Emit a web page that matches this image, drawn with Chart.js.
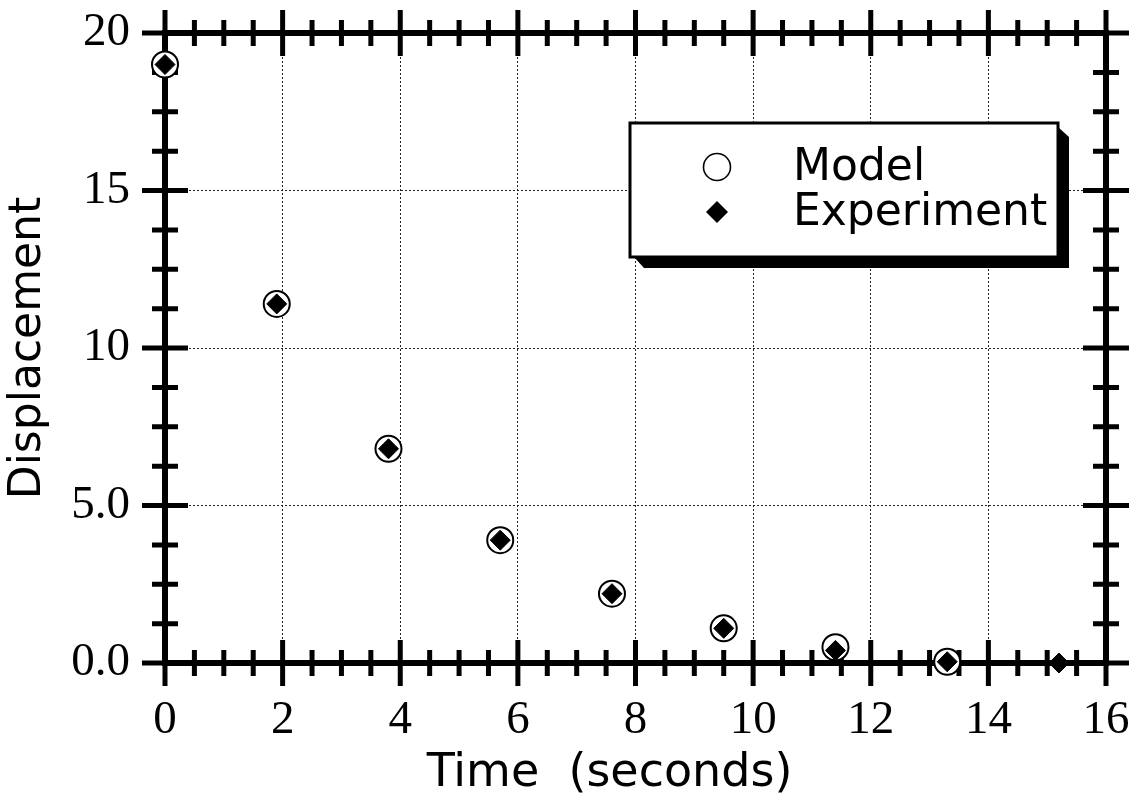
<!DOCTYPE html>
<html>
<head>
<meta charset="utf-8">
<script src="https://cdn.jsdelivr.net/npm/chart.js@4.4.1/dist/chart.umd.min.js"></script>
<style>
  html, body { margin: 0; padding: 0; background: #ffffff; }
  #wrap { width: 1137px; height: 798px; }
</style>
</head>
<body>
<div id="wrap"><canvas id="c" width="1137" height="798"></canvas></div>
<script>
// ---- data ----
const timeModel = [0, 1.9, 3.8, 5.7, 7.6, 9.5, 11.4, 13.3];
const displacementModel = [19.0, 11.4, 6.8, 3.9, 2.2, 1.1, 0.5, 0.04];
const timeExperiment = [0, 1.9, 3.8, 5.7, 7.6, 9.5, 11.4, 13.3, 15.2];
const displacementExperiment = [19.0, 11.4, 6.8, 3.9, 2.2, 1.1, 0.4, 0.04, 0.0];
const xTickLabels = ['0', '2', '4', '6', '8', '10', '12', '14', '16'];
const yTickLabels = ['0.0', '5.0', '10', '15', '20'];
const seriesNames = ['Model', 'Experiment'];
const xTitle = 'Time  (seconds)';
const yTitle = 'Displacement';

const toPoints = (xs, ys) => xs.map((x, i) => ({ x: x, y: ys[i] }));

const SERIF = "'Liberation Serif', 'Times New Roman', serif";
const SANS = "'DejaVu Sans', Verdana, sans-serif";

// Thick framed axes with crossing major/minor ticks on all four sides
const framePlugin = {
  id: 'frame',
  beforeDatasetsDraw(chart) {
    const ctx = chart.ctx;
    const xs = chart.scales.x, ys = chart.scales.y;
    const L = xs.left, R = xs.right, T = ys.top, B = ys.bottom;
    const major = 23, minor = 13;
    ctx.save();
    ctx.strokeStyle = '#000';
    ctx.lineCap = 'butt';
    ctx.lineWidth = 6;
    ctx.beginPath();
    ctx.moveTo(L, T - 3); ctx.lineTo(L, B + 3);
    ctx.moveTo(R, T - 3); ctx.lineTo(R, B + 3);
    ctx.moveTo(L - 3, T); ctx.lineTo(R + 3, T);
    ctx.moveTo(L - 3, B); ctx.lineTo(R + 3, B);
    ctx.stroke();
    ctx.lineWidth = 5;
    ctx.beginPath();
    for (let k = 0; k <= (xs.max - xs.min) / 0.5 + 1e-9; k++) {
      const v = xs.min + k * 0.5;
      const px = xs.getPixelForValue(v);
      const len = (Math.abs(v / 2 - Math.round(v / 2)) < 1e-9) ? major : minor;
      ctx.moveTo(px, B - len); ctx.lineTo(px, B + len);
      ctx.moveTo(px, T - len); ctx.lineTo(px, T + len);
    }
    for (let k = 0; k <= (ys.max - ys.min) / 1.25 + 1e-9; k++) {
      const v = ys.min + k * 1.25;
      const py = ys.getPixelForValue(v);
      const len = (Math.abs(v / 5 - Math.round(v / 5)) < 1e-9) ? major : minor;
      ctx.moveTo(L - len, py); ctx.lineTo(L + len, py);
      ctx.moveTo(R - len, py); ctx.lineTo(R + len, py);
    }
    ctx.stroke();
    ctx.restore();
  }
};

// x-axis title, drawn slightly left of the plot centre as in the reference
const xTitlePlugin = {
  id: 'xTitleText',
  afterDraw(chart, args, opts) {
    const ctx = chart.ctx;
    const a = chart.chartArea;
    ctx.save();
    ctx.font = opts.size + 'px ' + SANS;
    ctx.fillStyle = '#000';
    ctx.textAlign = 'center';
    ctx.textBaseline = 'alphabetic';
    ctx.fillText(opts.text, (a.left + a.right) / 2 + opts.dx, opts.baseline);
    ctx.restore();
  }
};

// Boxed legend with drop shadow inside the plot
const boxLegendPlugin = {
  id: 'boxLegend',
  afterDatasetsDraw(chart, args, opts) {
    const ctx = chart.ctx;
    const bx = opts.left, by = opts.top, bw = opts.width, bh = opts.height;
    ctx.save();
    ctx.fillStyle = '#000';
    ctx.beginPath();
    ctx.moveTo(bx + 4, by + bh);
    ctx.lineTo(bx + 14, by + bh + 11);
    ctx.lineTo(bx + bw + 11, by + bh + 11);
    ctx.lineTo(bx + bw + 11, by + 14);
    ctx.lineTo(bx + bw, by + 4);
    ctx.closePath();
    ctx.fill();
    ctx.fillStyle = '#fff';
    ctx.fillRect(bx, by, bw, bh);
    ctx.lineWidth = 3;
    ctx.strokeStyle = '#000';
    ctx.strokeRect(bx, by, bw, bh);
    const ds = chart.data.datasets;
    ctx.font = '44px ' + SANS;
    ctx.textBaseline = 'middle';
    ctx.textAlign = 'left';
    ds.forEach((d, i) => {
      const cy = by + opts.firstRow + i * opts.rowGap;
      const cx = bx + opts.markerX;
      ctx.beginPath();
      if (d.pointStyle === 'rectRot') {
        const r = 11;
        ctx.moveTo(cx - r, cy); ctx.lineTo(cx, cy - r); ctx.lineTo(cx + r, cy); ctx.lineTo(cx, cy + r);
        ctx.closePath();
        ctx.fillStyle = d.backgroundColor;
        ctx.fill();
      } else {
        ctx.arc(cx, cy, 13.5, 0, Math.PI * 2);
        ctx.fillStyle = d.backgroundColor;
        ctx.fill();
        ctx.lineWidth = 1.6;
        ctx.strokeStyle = d.borderColor;
        ctx.stroke();
      }
      ctx.fillStyle = '#000';
      ctx.fillText(d.label, bx + opts.textX, cy + 2);
    });
    ctx.restore();
  }
};

function zeroPad(s) { s.paddingTop = 0; s.paddingBottom = 0; s.paddingLeft = 0; s.paddingRight = 0; }

const chart = new Chart(document.getElementById('c'), {
  type: 'scatter',
  data: {
    datasets: [
      {
        label: seriesNames[0],
        data: toPoints(timeModel, displacementModel),
        pointStyle: 'circle',
        pointRadius: 13,
        pointBorderWidth: 2,
        backgroundColor: '#ffffff',
        borderColor: '#000000',
        order: 1,
        clip: false
      },
      {
        label: seriesNames[1],
        data: toPoints(timeExperiment, displacementExperiment),
        pointStyle: 'rectRot',
        pointRadius: 10,
        pointBorderWidth: 1,
        backgroundColor: '#000000',
        borderColor: '#000000',
        order: 0,
        clip: false
      }
    ]
  },
  options: {
    responsive: false,
    animation: false,
    devicePixelRatio: 1,
    layout: { padding: { left: 0, right: 31, top: 33, bottom: 0 } },
    plugins: {
      legend: { display: false },
      tooltip: { enabled: false },
      boxLegend: { left: 630, top: 123, width: 428, height: 134, markerX: 87, textX: 163, firstRow: 44, rowGap: 45 },
      xTitleText: { text: xTitle, size: 46, dx: -26, baseline: 786 }
    },
    scales: {
      x: {
        type: 'linear',
        min: 0, max: 16,
        afterFit(s) { s.height = 135; zeroPad(s); },
        ticks: {
          stepSize: 2,
          padding: 29,
          color: '#000',
          font: { family: SERIF, size: 47 },
          maxRotation: 0,
          autoSkip: false,
          callback: (v, i) => xTickLabels[i]
        },
        grid: { color: '#222', lineWidth: 1, drawTicks: false },
        border: { display: false, dash: [2, 2] },
        title: { display: false, text: xTitle }
      },
      y: {
        type: 'linear',
        min: 0, max: 20,
        afterFit(s) { s.width = 165; zeroPad(s); },
        ticks: {
          stepSize: 5,
          padding: 35,
          color: '#000',
          font: { family: SERIF, size: 47 },
          autoSkip: false,
          callback: (v, i) => yTickLabels[i]
        },
        grid: { color: '#222', lineWidth: 1, drawTicks: false },
        border: { display: false, dash: [2, 2] },
        title: {
          display: true, text: yTitle, color: '#000',
          font: { family: SANS, size: 44, lineHeight: 1.2 },
          padding: { top: 2, bottom: 0 }
        }
      }
    }
  },
  plugins: [framePlugin, boxLegendPlugin, xTitlePlugin]
});
</script>
</body>
</html>
